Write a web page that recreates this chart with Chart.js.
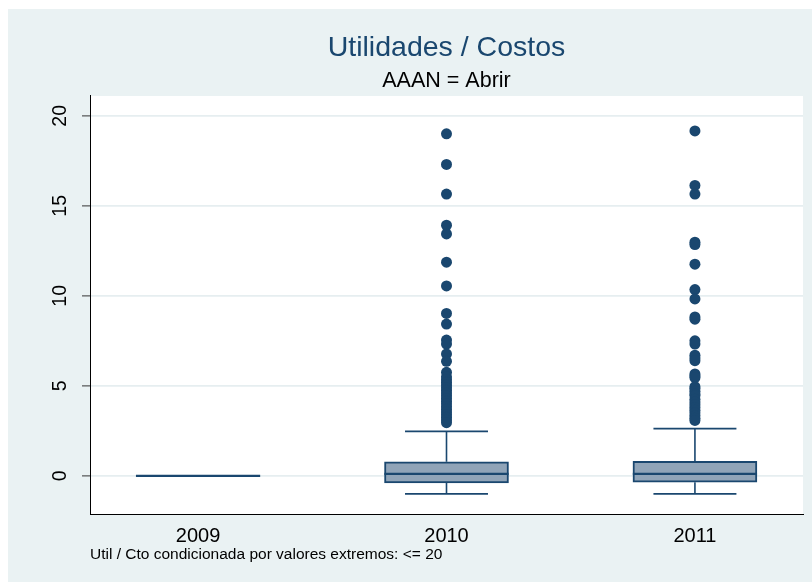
<!DOCTYPE html>
<html>
<head>
<meta charset="utf-8">
<script src="https://cdn.jsdelivr.net/npm/chart.js@4.4.1/dist/chart.umd.min.js"></script>
<style>
  html, body { margin: 0; padding: 0; background: #ffffff; }
  #bg { position: absolute; left: 8px; top: 9px; width: 804px; height: 573px; background: #eaf2f3; }
  #chart { position: absolute; left: 0; top: 0; }
</style>
</head>
<body>
<div id="bg"></div>
<canvas id="chart" width="812" height="582"></canvas>
<script>
const years = ['2009', '2010', '2011']
const q1 = [0, -0.39, -0.35]
const median = [0, 0.11, 0.11]
const q3 = [0, 0.78, 0.81]
const whiskerLow = [0, -1.0, -1.0]
const whiskerHigh = [0, 2.47, 2.62]
const outliers2009 = []
const outliers2010 = [19.0, 17.3, 15.65, 13.92, 13.44, 11.87, 10.55, 9.02, 8.43, 7.54, 7.32, 6.77, 6.36,
  5.75, 5.5, 5.35, 5.2, 5.05, 4.9, 4.75, 4.6, 4.45, 4.3, 4.15, 4.0, 3.85, 3.7, 3.55, 3.4, 3.25, 3.1, 2.95]
const outliers2011 = [19.16, 16.13, 15.65, 12.98, 12.85, 11.76, 10.35, 9.83, 8.83, 8.7, 7.5, 7.32,
  6.7, 6.55, 6.4, 5.66, 5.55, 5.45, 4.95, 4.85, 4.7, 4.55, 4.45, 4.25, 4.1, 3.95, 3.8, 3.65, 3.5,
  3.35, 3.2, 3.08]
const yTicks = [0, 5, 10, 15, 20]
const noteText = 'Util / Cto condicionada por valores extremos: <= 20'

const navy = '#1a476f'
const boxHalf = 0.25
const capHalf = 0.167
const outliers = [outliers2009, outliers2010, outliers2011]

function segment(points, width) {
  return {
    type: 'line',
    data: points,
    borderColor: navy,
    borderWidth: width,
    pointRadius: 0,
    fill: false,
    order: 1
  }
}

const datasets = []

// boxes (floating bars)
datasets.push({
  type: 'bar',
  data: years.map((y, i) => ({ x: i + 1, y: [q1[i], q3[i]] })).filter((d, i) => q3[i] > q1[i]),
  backgroundColor: '#90a4b8',
  borderColor: navy,
  borderWidth: 2,
  borderSkipped: false,
  barThickness: 124,
  order: 3
})

years.forEach((y, i) => {
  const x = i + 1
  datasets.push(segment([{ x: x - boxHalf, y: median[i] }, { x: x + boxHalf, y: median[i] }], 2.2))
  if (whiskerHigh[i] > q3[i]) {
    datasets.push(segment([{ x: x, y: q3[i] }, { x: x, y: whiskerHigh[i] }], 1.6))
    datasets.push(segment([{ x: x - capHalf, y: whiskerHigh[i] }, { x: x + capHalf, y: whiskerHigh[i] }], 1.6))
  }
  if (whiskerLow[i] < q1[i]) {
    datasets.push(segment([{ x: x, y: q1[i] }, { x: x, y: whiskerLow[i] }], 1.6))
    datasets.push(segment([{ x: x - capHalf, y: whiskerLow[i] }, { x: x + capHalf, y: whiskerLow[i] }], 1.6))
  }
})

datasets.push({
  type: 'scatter',
  data: outliers.flatMap((list, i) => list.map(v => ({ x: i + 1, y: v }))),
  backgroundColor: navy,
  borderWidth: 0,
  pointRadius: 5.5,
  order: 0
})

const plotBackground = {
  id: 'plotBackground',
  beforeDraw(chart) {
    const { ctx, chartArea } = chart
    ctx.save()
    ctx.fillStyle = '#ffffff'
    ctx.fillRect(chartArea.left, chartArea.top, chartArea.right - chartArea.left, chartArea.bottom - chartArea.top)
    ctx.restore()
  }
}

const fontFamily = '"Liberation Sans", Arial, sans-serif'

new Chart(document.getElementById('chart'), {
  data: { datasets },
  plugins: [plotBackground],
  options: {
    responsive: false,
    animation: false,
    layout: { padding: { left: 0, right: 9, top: 0, bottom: 0 } },
    plugins: {
      legend: { display: false },
      tooltip: { enabled: false },
      title: {
        display: true,
        text: 'Utilidades / Costos',
        color: navy,
        fullSize: false,
        font: { family: fontFamily, size: 28.5, weight: 'normal' },
        padding: { top: 31, bottom: 0 }
      },
      subtitle: {
        display: true,
        text: 'AAAN = Abrir',
        color: '#000000',
        fullSize: false,
        font: { family: fontFamily, size: 21.5, weight: 'normal' },
        padding: { top: 3, bottom: 2 }
      }
    },
    scales: {
      x: {
        type: 'linear',
        min: 0.565,
        max: 3.435,
        offset: false,
        afterFit(scale) { scale.height = 68 },
        grid: { display: false, drawTicks: false, tickLength: 0 },
        border: { display: true, color: '#000000', width: 1 },
        ticks: {
          stepSize: 1,
          includeBounds: false,
          autoSkip: false,
          maxRotation: 0,
          padding: 10,
          color: '#000000',
          font: { family: fontFamily, size: 20 },
          callback: v => years[Math.round(v) - 1] || ''
        },
        title: {
          display: true,
          text: noteText,
          align: 'start',
          color: '#000000',
          font: { family: fontFamily, size: 15.5 },
          padding: { top: 0, bottom: 18 }
        }
      },
      y: {
        type: 'linear',
        min: -2.12,
        max: 21.1,
        afterFit(scale) { scale.width = 90 },
        afterBuildTicks(scale) { scale.ticks = yTicks.map(v => ({ value: v })) },
        grid: { color: '#e6eef0', lineWidth: 1.8, tickColor: '#333333', tickLength: 8, tickWidth: 1 },
        border: { display: true, color: '#000000', width: 1 },
        ticks: {
          autoSkip: false,
          minRotation: 90,
          maxRotation: 90,
          crossAlign: 'center',
          padding: 11,
          color: '#000000',
          font: { family: fontFamily, size: 19.5 }
        }
      }
    }
  }
})
</script>
</body>
</html>
